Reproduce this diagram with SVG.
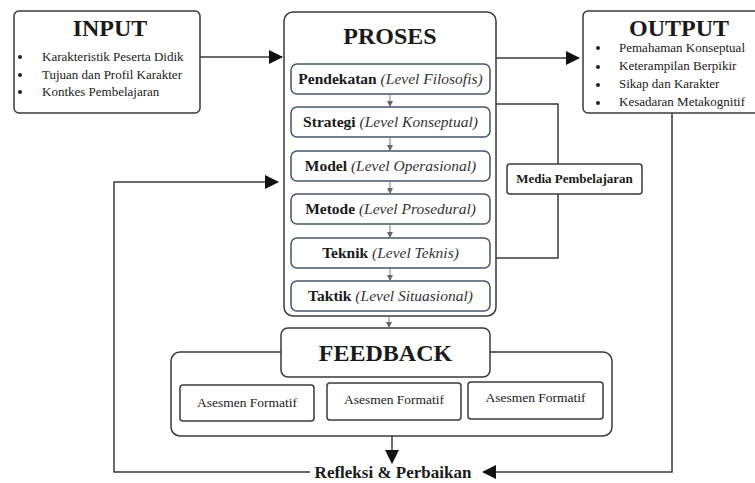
<svg xmlns="http://www.w3.org/2000/svg" width="755" height="483" viewBox="0 0 755 483">
<defs>
<style>
.box{fill:#fff;stroke:#3a3a3a;stroke-width:1.5}
.inner{fill:#fff;stroke:#46566a;stroke-width:1.5}
.ln{fill:none;stroke:#3a3a3a;stroke-width:1.5}
.sm{fill:none;stroke:#777;stroke-width:1}
.t{font-family:"Liberation Serif","Times New Roman",serif;fill:#1a1a1a}
.title{font-size:24px;font-weight:bold;text-anchor:middle}
.li{font-size:13px}
.pb{font-size:15.5px;text-anchor:middle}
.b{font-weight:bold}
.i{font-style:italic;fill:#333}
</style>
<marker id="ah" markerWidth="14" markerHeight="14" refX="13" refY="7" orient="auto" markerUnits="userSpaceOnUse">
<path d="M0,0 L14,7 L0,14 Z" fill="#111"/>
</marker>
<marker id="sa" markerWidth="6" markerHeight="6" refX="5" refY="3" orient="auto" markerUnits="userSpaceOnUse">
<path d="M0,0 L6,3 L0,6 Z" fill="#666"/>
</marker>
</defs>
<rect width="755" height="483" fill="#fff"/>

<g id="input">
<rect class="box" x="14" y="11" width="186" height="102" rx="5"/>
<text class="t title" x="110" y="36">INPUT</text>
<circle cx="20" cy="57" r="2" fill="#222"/>
<circle cx="20" cy="75" r="2" fill="#222"/>
<circle cx="20" cy="92" r="2" fill="#222"/>
<text class="t li" x="42" y="61">Karakteristik Peserta Didik</text>
<text class="t li" x="42" y="79">Tujuan dan Profil Karakter</text>
<text class="t li" x="42" y="96">Kontkes Pembelajaran</text>
</g>

<g id="proses">
<rect class="box" x="284" y="12" width="212" height="304" rx="9"/>
<text class="t title" x="390" y="44">PROSES</text>
</g>
<g id="pendekatan">
<rect class="inner" x="291" y="64" width="199" height="30" rx="6"/>
<text class="t pb" x="390.5" y="84"><tspan class="b">Pendekatan</tspan> <tspan class="i">(Level Filosofis)</tspan></text>
</g>
<g id="strategi">
<rect class="inner" x="291" y="107" width="199" height="30" rx="6"/>
<text class="t pb" x="390.5" y="127"><tspan class="b">Strategi</tspan> <tspan class="i">(Level Konseptual)</tspan></text>
</g>
<g id="model">
<rect class="inner" x="291" y="151" width="199" height="30" rx="6"/>
<text class="t pb" x="390.5" y="171"><tspan class="b">Model</tspan> <tspan class="i">(Level Operasional)</tspan></text>
</g>
<g id="metode">
<rect class="inner" x="291" y="194" width="199" height="30" rx="6"/>
<text class="t pb" x="390.5" y="214"><tspan class="b">Metode</tspan> <tspan class="i">(Level Prosedural)</tspan></text>
</g>
<g id="teknik">
<rect class="inner" x="291" y="238" width="199" height="30" rx="6"/>
<text class="t pb" x="390.5" y="258"><tspan class="b">Teknik</tspan> <tspan class="i">(Level Teknis)</tspan></text>
</g>
<g id="taktik">
<rect class="inner" x="291" y="281" width="199" height="30" rx="6"/>
<text class="t pb" x="390.5" y="301"><tspan class="b">Taktik</tspan> <tspan class="i">(Level Situasional)</tspan></text>
</g>

<g id="output">
<rect class="box" x="583" y="11" width="180" height="102" rx="5"/>
<text class="t title" x="679" y="36">OUTPUT</text>
<circle cx="598" cy="48" r="2" fill="#222"/>
<circle cx="598" cy="67" r="2" fill="#222"/>
<circle cx="598" cy="85" r="2" fill="#222"/>
<circle cx="598" cy="103" r="2" fill="#222"/>
<text class="t li" x="619" y="52">Pemahaman Konseptual</text>
<text class="t li" x="619" y="70">Keterampilan Berpikir</text>
<text class="t li" x="619" y="88">Sikap dan Karakter</text>
<text class="t li" x="619" y="106">Kesadaran Metakognitif</text>
</g>

<g id="media">
<rect class="box" x="507" y="164" width="135" height="30" rx="3"/>
<text class="t b" x="574.5" y="183" font-size="13" text-anchor="middle">Media Pembelajaran</text>
</g>

<g id="feedback">
<rect class="box" x="171" y="352" width="441" height="84" rx="9"/>
<rect class="box" x="281" y="328" width="209" height="49" rx="7"/>
<text class="t title" x="385.5" y="361">FEEDBACK</text>
</g>
<g id="asesmen1">
<rect class="box" x="180" y="385" width="134" height="36" rx="3" stroke-width="1.2"/>
<text class="t" x="247" y="407" font-size="13.5" text-anchor="middle">Asesmen Formatif</text>
</g>
<g id="asesmen2">
<rect class="box" x="327" y="383" width="134" height="37" rx="3" stroke-width="1.2"/>
<text class="t" x="394" y="404" font-size="13.5" text-anchor="middle">Asesmen Formatif</text>
</g>
<g id="asesmen3">
<rect class="box" x="468" y="382" width="135" height="37" rx="3" stroke-width="1.2"/>
<text class="t" x="535.5" y="402" font-size="13.5" text-anchor="middle">Asesmen Formatif</text>
</g>

<g id="refleksi">
<text class="t b" x="393" y="478" font-size="17" text-anchor="middle">Refleksi &amp; Perbaikan</text>
</g>

<g id="connectors">
<path class="ln" d="M200,57 H282" marker-end="url(#ah)"/>
<path class="ln" d="M496,58 H579" marker-end="url(#ah)"/>
<path class="ln" d="M496,104 H558 V164"/>
<path class="ln" d="M558,194 V258 H496"/>
<path class="ln" d="M672,113 V472 H483" marker-end="url(#ah)"/>
<path class="ln" d="M310,472 H114 V182 H278" marker-end="url(#ah)"/>
<path class="ln" d="M392,436 V463" marker-end="url(#ah)"/>
<path class="sm" d="M390,95 V106" marker-end="url(#sa)"/>
<path class="sm" d="M390,138 V150" marker-end="url(#sa)"/>
<path class="sm" d="M390,182 V193" marker-end="url(#sa)"/>
<path class="sm" d="M390,225 V237" marker-end="url(#sa)"/>
<path class="sm" d="M390,269 V280" marker-end="url(#sa)"/>
<path class="sm" d="M389,317 V327" marker-end="url(#sa)"/>
</g>
</svg>
